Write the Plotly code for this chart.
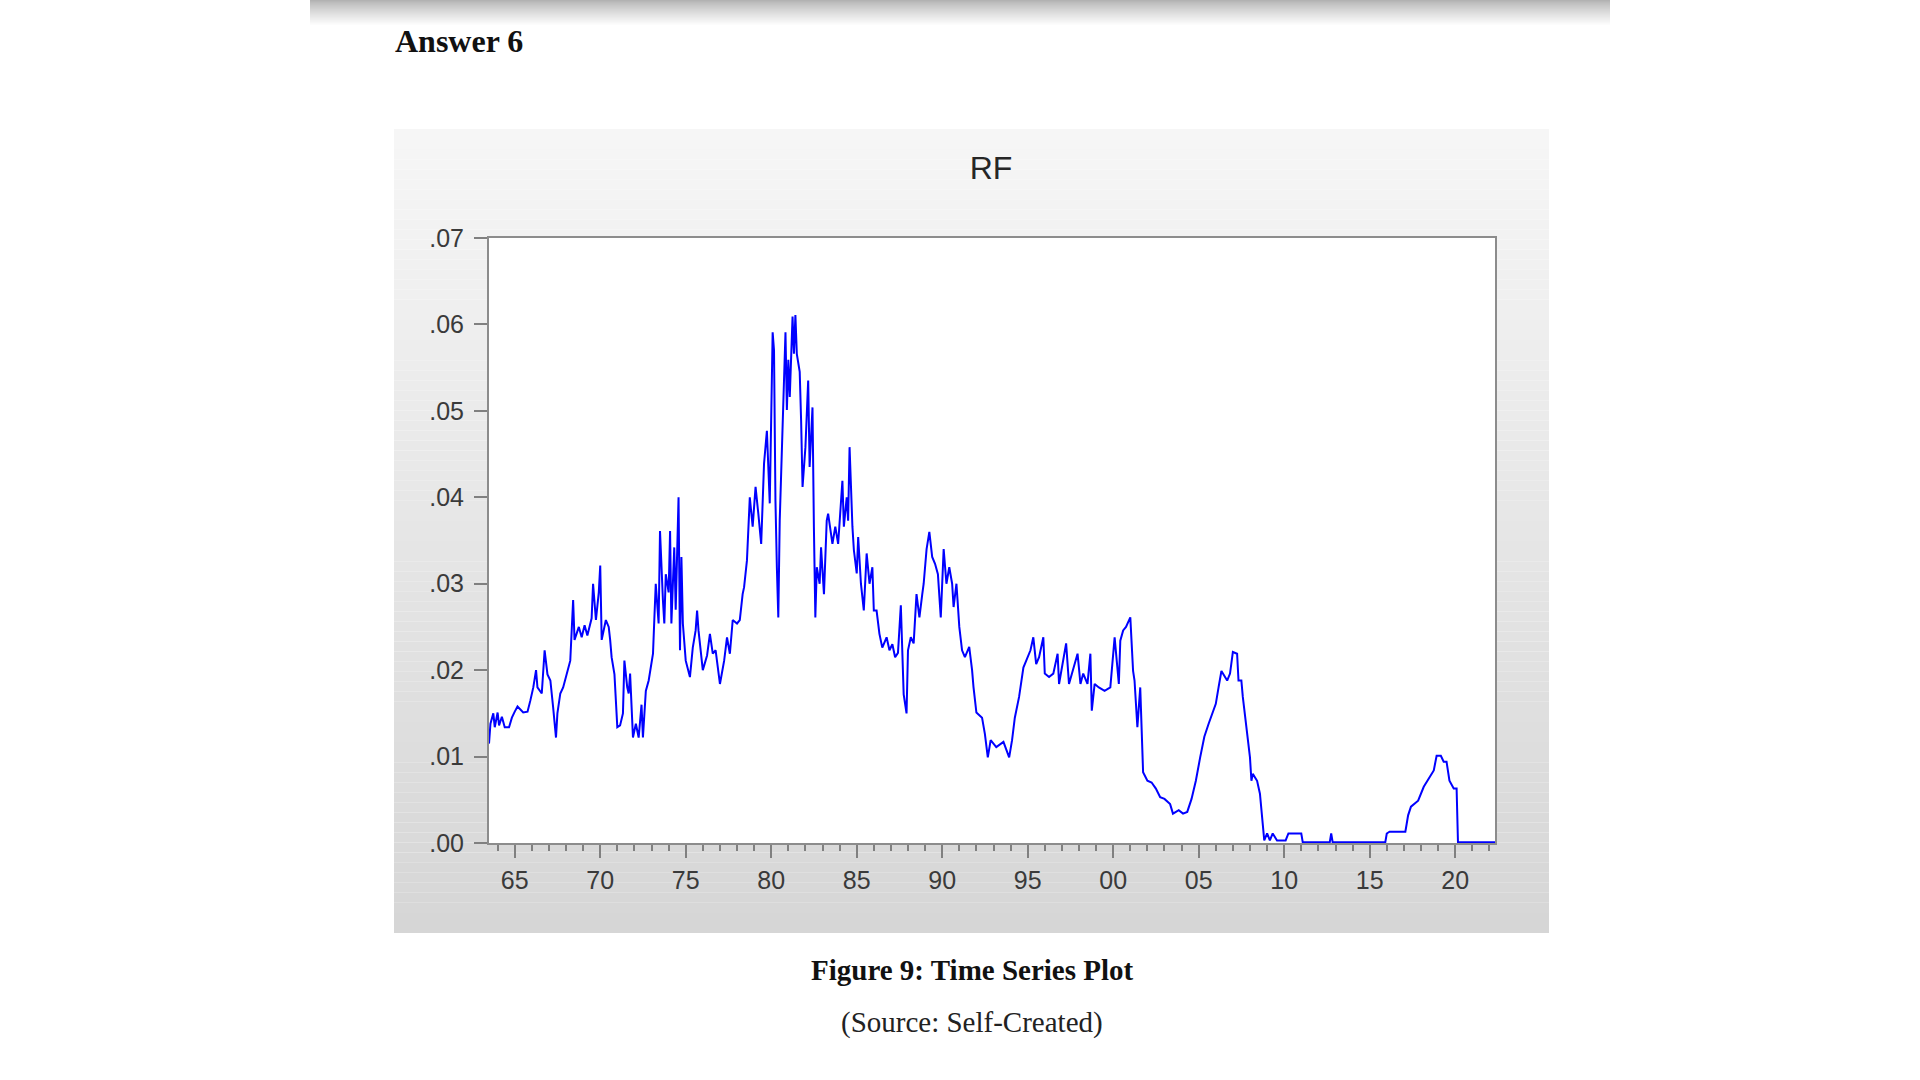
import plotly.graph_objects as go

# ---------------- data ----------------
dates = [
    "1963-07", "1963-08", "1963-10", "1963-11", "1964-01", "1964-02", "1964-04", "1964-06",
    "1964-09", "1964-11", "1965-01", "1965-03", "1965-07", "1965-10", "1965-12", "1966-02",
    "1966-04", "1966-05", "1966-08", "1966-10", "1966-12", "1967-02", "1967-04", "1967-06",
    "1967-07", "1967-09", "1967-11", "1968-02", "1968-04", "1968-06", "1968-07", "1968-10",
    "1968-12", "1969-02", "1969-04", "1969-07", "1969-08", "1969-10", "1969-12", "1970-01",
    "1970-02", "1970-05", "1970-07", "1970-08", "1970-09", "1970-11", "1971-01", "1971-03",
    "1971-05", "1971-06", "1971-08", "1971-09", "1971-10", "1971-12", "1972-02", "1972-04",
    "1972-06", "1972-07", "1972-09", "1972-11", "1972-12", "1973-02", "1973-03", "1973-04",
    "1973-06", "1973-07", "1973-09", "1973-10", "1973-11", "1974-01", "1974-02", "1974-03",
    "1974-05", "1974-06", "1974-08", "1974-09", "1974-10", "1974-11", "1975-01", "1975-04",
    "1975-06", "1975-08", "1975-09", "1975-10", "1976-01", "1976-04", "1976-06", "1976-08",
    "1976-10", "1977-01", "1977-04", "1977-06", "1977-08", "1977-10", "1978-01", "1978-03",
    "1978-05", "1978-06", "1978-08", "1978-10", "1978-12", "1979-02", "1979-04", "1979-06",
    "1979-08", "1979-10", "1979-12", "1980-02", "1980-03", "1980-04", "1980-05", "1980-06",
    "1980-07", "1980-08", "1980-10", "1980-11", "1980-12", "1981-01", "1981-02", "1981-04",
    "1981-05", "1981-06", "1981-07", "1981-09", "1981-10", "1981-11", "1982-01", "1982-03",
    "1982-04", "1982-06", "1982-07", "1982-08", "1982-09", "1982-11", "1982-12", "1983-02",
    "1983-04", "1983-05", "1983-08", "1983-10", "1983-12", "1984-03", "1984-04", "1984-06",
    "1984-07", "1984-08", "1984-10", "1984-11", "1985-01", "1985-02", "1985-04", "1985-06",
    "1985-08", "1985-10", "1985-12", "1986-01", "1986-03", "1986-05", "1986-07", "1986-10",
    "1986-12", "1987-02", "1987-04", "1987-06", "1987-08", "1987-10", "1987-12", "1988-01",
    "1988-03", "1988-05", "1988-07", "1988-09", "1988-11", "1988-12", "1989-02", "1989-04",
    "1989-06", "1989-08", "1989-10", "1989-12", "1990-02", "1990-04", "1990-06", "1990-08",
    "1990-09", "1990-11", "1991-01", "1991-03", "1991-05", "1991-08", "1991-10", "1991-11",
    "1992-01", "1992-05", "1992-07", "1992-09", "1992-11", "1993-03", "1993-08", "1993-12",
    "1994-02", "1994-04", "1994-07", "1994-10", "1994-12", "1995-03", "1995-05", "1995-07",
    "1995-09", "1995-12", "1996-01", "1996-04", "1996-07", "1996-10", "1996-11", "1997-02",
    "1997-04", "1997-06", "1997-09", "1997-12", "1998-02", "1998-04", "1998-07", "1998-09",
    "1998-10", "1998-12", "1999-03", "1999-07", "1999-11", "2000-01", "2000-02", "2000-05",
    "2000-06", "2000-08", "2000-10", "2001-01", "2001-03", "2001-04", "2001-06", "2001-08",
    "2001-10", "2002-01", "2002-04", "2002-07", "2002-10", "2003-01", "2003-05", "2003-07",
    "2003-11", "2004-02", "2004-05", "2004-08", "2004-11", "2005-02", "2005-05", "2005-08",
    "2005-11", "2006-01", "2006-03", "2006-05", "2006-09", "2006-11", "2007-01", "2007-04",
    "2007-05", "2007-07", "2007-08", "2007-10", "2008-01", "2008-02", "2008-03", "2008-06",
    "2008-08", "2008-11", "2009-01", "2009-03", "2009-05", "2009-08", "2010-02", "2010-04",
    "2011-01", "2011-02", "2012-09", "2012-10", "2012-11", "2015-12", "2016-01", "2016-03",
    "2017-02", "2017-03", "2017-04", "2017-06", "2017-11", "2018-03", "2018-07", "2018-10",
    "2018-12", "2019-03", "2019-05", "2019-07", "2019-09", "2019-12", "2020-02", "2020-03",
    "2022-05",
]
rf = [
    0.0115, 0.0138, 0.0150, 0.0134, 0.0151, 0.0136, 0.0146, 0.0134,
    0.0134, 0.0145, 0.0152, 0.0158, 0.0151, 0.0152, 0.0165, 0.0180,
    0.0200, 0.0180, 0.0173, 0.0223, 0.0195, 0.0188, 0.0157, 0.0122,
    0.0150, 0.0173, 0.0180, 0.0200, 0.0211, 0.0281, 0.0235, 0.0250,
    0.0238, 0.0252, 0.0240, 0.0260, 0.0300, 0.0258, 0.0290, 0.0321,
    0.0235, 0.0258, 0.0250, 0.0235, 0.0215, 0.0195, 0.0134, 0.0136,
    0.0150, 0.0211, 0.0180, 0.0173, 0.0196, 0.0122, 0.0138, 0.0122,
    0.0160, 0.0122, 0.0176, 0.0188, 0.0200, 0.0219, 0.0258, 0.0300,
    0.0254, 0.0361, 0.0281, 0.0254, 0.0311, 0.0290, 0.0361, 0.0254,
    0.0342, 0.0270, 0.0400, 0.0223, 0.0331, 0.0254, 0.0211, 0.0192,
    0.0226, 0.0246, 0.0269, 0.0246, 0.0200, 0.0217, 0.0242, 0.0219,
    0.0223, 0.0184, 0.0211, 0.0238, 0.0219, 0.0258, 0.0254, 0.0258,
    0.0288, 0.0296, 0.0327, 0.0400, 0.0366, 0.0412, 0.0381, 0.0346,
    0.0439, 0.0477, 0.0393, 0.0591, 0.0570, 0.0396, 0.0319, 0.0261,
    0.0373, 0.0423, 0.0535, 0.0591, 0.0501, 0.0559, 0.0516, 0.0609,
    0.0566, 0.0611, 0.0566, 0.0545, 0.0489, 0.0412, 0.0458, 0.0535,
    0.0435, 0.0504, 0.0366, 0.0261, 0.0319, 0.0300, 0.0342, 0.0288,
    0.0373, 0.0381, 0.0346, 0.0366, 0.0346, 0.0419, 0.0366, 0.0400,
    0.0373, 0.0458, 0.0366, 0.0339, 0.0312, 0.0354, 0.0300, 0.0269,
    0.0335, 0.0300, 0.0319, 0.0269, 0.0269, 0.0242, 0.0226, 0.0238,
    0.0223, 0.0230, 0.0215, 0.0220, 0.0275, 0.0172, 0.0150, 0.0223,
    0.0238, 0.0231, 0.0288, 0.0261, 0.0288, 0.0300, 0.0340, 0.0360,
    0.0331, 0.0323, 0.0311, 0.0261, 0.0340, 0.0300, 0.0319, 0.0300,
    0.0273, 0.0300, 0.0250, 0.0223, 0.0215, 0.0227, 0.0200, 0.0180,
    0.0151, 0.0145, 0.0126, 0.0099, 0.0119, 0.0111, 0.0117, 0.0099,
    0.0119, 0.0145, 0.0169, 0.0203, 0.0211, 0.0223, 0.0238, 0.0207,
    0.0215, 0.0238, 0.0196, 0.0192, 0.0196, 0.0219, 0.0184, 0.0215,
    0.0231, 0.0184, 0.0203, 0.0219, 0.0184, 0.0196, 0.0184, 0.0219,
    0.0153, 0.0184, 0.0180, 0.0176, 0.0180, 0.0215, 0.0238, 0.0184,
    0.0234, 0.0246, 0.0250, 0.0261, 0.0199, 0.0188, 0.0134, 0.0180,
    0.0082, 0.0072, 0.0070, 0.0063, 0.0053, 0.0051, 0.0045, 0.0034,
    0.0038, 0.0034, 0.0036, 0.0051, 0.0072, 0.0099, 0.0123, 0.0138,
    0.0151, 0.0161, 0.0180, 0.0199, 0.0188, 0.0196, 0.0221, 0.0219,
    0.0188, 0.0188, 0.0169, 0.0142, 0.0099, 0.0072, 0.0080, 0.0072,
    0.0057, 0.0003, 0.0011, 0.0003, 0.0011, 0.0003, 0.0003, 0.0011,
    0.0011, 0.0001, 0.0001, 0.0011, 0.0001, 0.0001, 0.0011, 0.0013,
    0.0013, 0.0022, 0.0032, 0.0042, 0.0049, 0.0065, 0.0076, 0.0084,
    0.0101, 0.0101, 0.0094, 0.0094, 0.0072, 0.0063, 0.0063, 0.0001,
    0.0001,
]
y_tick_vals = [0.00, 0.01, 0.02, 0.03, 0.04, 0.05, 0.06, 0.07]
y_tick_text = [".00", ".01", ".02", ".03", ".04", ".05", ".06", ".07"]
series_name = "RF"
heading = "Answer 6"
caption = "Figure 9: Time Series Plot"
source = "(Source: Self-Created)"

# ---------------- layout geometry (pixels) ----------------
FIG_W, FIG_H = 1920, 1080
L, R, T, B = 489, 425, 238, 237
PW = FIG_W - L - R
PH = FIG_H - T - B


def xp(px):
    return (px - L) / PW


def yp(py):
    return (FIG_H - B - py) / PH


shapes = []

# page top shadow
shadow_px = 26
for i in range(shadow_px):
    g = int(178 + (255 - 178) * (i / (shadow_px - 1)) ** 0.8)
    shapes.append(dict(type="rect", xref="paper", yref="paper",
                       x0=xp(310), x1=xp(1610), y0=yp(i + 1), y1=yp(i),
                       fillcolor=f"rgb({g},{g},{g})", line_width=0, layer="below"))

# chart panel with vertical gradient
P_TOP, P_BOT, P_L, P_R = 129, 933, 394, 1549
n = 80
for i in range(n):
    t = i / (n - 1)
    g = round(246 - (246 - 214) * t)
    y0 = P_TOP + (P_BOT - P_TOP) * i / n
    y1 = P_TOP + (P_BOT - P_TOP) * (i + 1) / n
    shapes.append(dict(type="rect", xref="paper", yref="paper",
                       x0=xp(P_L), x1=xp(P_R), y0=yp(y1), y1=yp(y0),
                       fillcolor=f"rgb({g},{g},{g})", line_width=0, layer="below"))

# white plotting area
shapes.append(dict(type="rect", xref="paper", yref="paper", x0=0, x1=1, y0=0, y1=1,
                   fillcolor="white", line_width=0, layer="below"))

fig = go.Figure()
fig.add_trace(go.Scatter(x=dates, y=rf, mode="lines", name=series_name,
                         line=dict(color="#0000ff", width=2), showlegend=False))

tick_font = dict(family="Liberation Sans, Arial, sans-serif", size=25, color="#3a3a3a")

fig.update_layout(
    width=FIG_W, height=FIG_H,
    margin=dict(l=L, r=R, t=T, b=B, pad=0),
    paper_bgcolor="white", plot_bgcolor="white",
    showlegend=False,
    shapes=shapes,
    title=dict(text=series_name, x=991 / FIG_W, y=1 - 168 / FIG_H,
               xanchor="center", yanchor="middle",
               font=dict(family="Liberation Sans, Arial, sans-serif", size=32, color="#262626")),
    xaxis=dict(type="date", range=["1963-07-01", "2022-05-01"],
               tick0="1965-01-01", dtick="M60", tickformat="%y",
               ticks="outside", ticklen=13, tickwidth=1.5, tickcolor="#808080",
               showline=True, linecolor="#8c8c8c", linewidth=2, mirror=True,
               showgrid=False, zeroline=False, tickfont=tick_font,
               ticklabelstandoff=1, layer="below traces",
               minor=dict(dtick="M12", tick0="1965-01-01", ticks="outside", ticklen=6,
                          tickwidth=1.5, tickcolor="#808080", showgrid=False)),
    yaxis=dict(range=[0, 0.07], tickvals=y_tick_vals, ticktext=y_tick_text,
               ticks="outside", ticklen=13, tickwidth=1.5, tickcolor="#808080",
               showline=True, linecolor="#8c8c8c", linewidth=2, mirror=True,
               showgrid=False, zeroline=False, tickfont=tick_font,
               ticklabelstandoff=5, layer="below traces"),
    annotations=[
        dict(text=f"<b>{heading}</b>", xref="paper", yref="paper", x=xp(393), y=yp(41),
             xanchor="left", yanchor="middle", showarrow=False,
             font=dict(family="Liberation Serif, Times New Roman, serif", size=32, color="#111111")),
        dict(text=f"<b>{caption}</b>", xref="paper", yref="paper", x=xp(972), y=yp(970),
             xanchor="center", yanchor="middle", showarrow=False,
             font=dict(family="Liberation Serif, Times New Roman, serif", size=29, color="#111111")),
        dict(text=source, xref="paper", yref="paper", x=xp(972), y=yp(1023),
             xanchor="center", yanchor="middle", showarrow=False,
             font=dict(family="Liberation Serif, Times New Roman, serif", size=29, color="#222222")),
    ],
)

fig.write_html("out.html")
